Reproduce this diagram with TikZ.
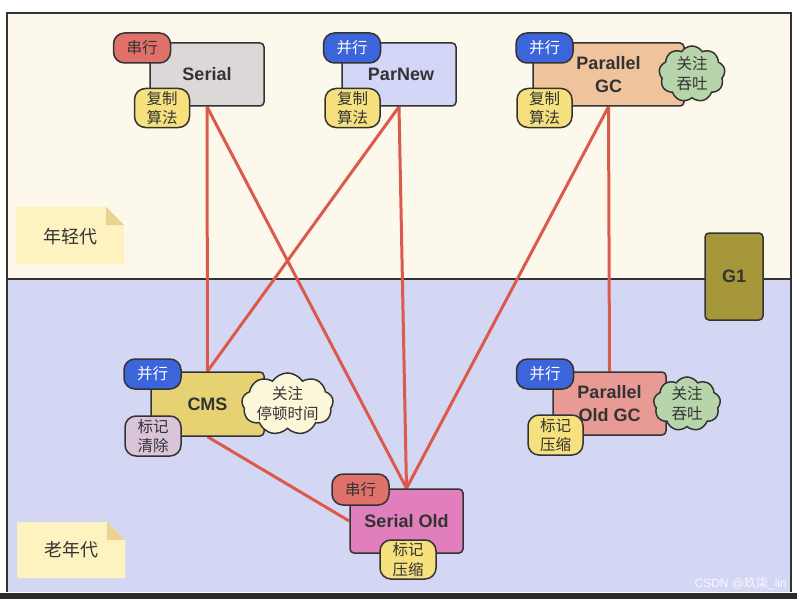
\documentclass[tikz,border=0pt]{standalone}
\usepackage{fontspec}
\setmainfont{Liberation Sans}
\newfontfamily\cjk{Noto Sans CJK SC}
\usetikzlibrary{shapes.symbols,shapes.misc}
\definecolor{topbg}{HTML}{FCF8EB}
\definecolor{botbg}{HTML}{D4D7F4}
\definecolor{framec}{HTML}{333333}
\definecolor{txt}{HTML}{333333}
\definecolor{cSerial}{HTML}{DBD8D7}
\definecolor{cParNew}{HTML}{D3D6F6}
\definecolor{cPGC}{HTML}{EFC39C}
\definecolor{cCMS}{HTML}{E6D273}
\definecolor{cPOld}{HTML}{E89A95}
\definecolor{cSOld}{HTML}{E07FBC}
\definecolor{cGone}{HTML}{A6973A}
\definecolor{tRed}{HTML}{E0706A}
\definecolor{tBlue}{HTML}{3C64DB}
\definecolor{tYellow}{HTML}{F6E17E}
\definecolor{tLav}{HTML}{D9C4D9}
\definecolor{cGreen}{HTML}{B7D4AB}
\definecolor{cCream}{HTML}{FDF7DA}
\definecolor{noteY}{HTML}{FEF3C0}
\definecolor{noteF}{HTML}{E8D38F}
\definecolor{lineR}{HTML}{DC5A4B}
\definecolor{darkbar}{HTML}{2B2B2B}
\pgfdeclarelayer{bglayer}
\pgfdeclarelayer{linelayer}
\pgfsetlayers{bglayer,linelayer,main}
\tikzset{
  gcbox/.style={draw=framec, line width=1.5pt, rounded corners=4pt, text=txt,
    font=\bfseries\fontsize{18}{23}\selectfont, align=center, inner sep=0pt},
  tag/.style={draw=framec, line width=1.5pt, rounded corners=11pt, text=txt,
    font=\cjk\fontsize{15.5}{19.5}\selectfont, align=center, inner sep=0pt,
    minimum width=57pt},
  tag1/.style={tag, minimum height=30pt},
  tag2/.style={tag, minimum height=39pt, minimum width=55pt},
  cloudn/.style={cloud, cloud puffs=9, cloud puff arc=115, cloud ignores aspect,
    draw=framec, line width=1.5pt,
    text=txt, font=\cjk\fontsize{15.5}{20}\selectfont, align=center, inner sep=0pt},
  conn/.style={draw=lineR, line width=3pt},
  notetxt/.style={text=txt, font=\cjk\fontsize{18}{20}\selectfont, inner sep=0pt}
}
\begin{document}
\begin{tikzpicture}[x=1pt,y=-1pt]
\useasboundingbox (0,0) rectangle (797,599);
\begin{pgfonlayer}{bglayer}
\fill[white] (0,0) rectangle (797,599);
\fill[topbg] (7,13) rectangle (791,279);
\fill[botbg] (7,279) rectangle (791,592);
\draw[framec, line width=2pt] (7,592) -- (7,13) -- (791,13) -- (791,592);
\draw[framec, line width=2pt] (7,279) -- (791,279);
\fill[darkbar] (0,593) rectangle (797,599);
% notes
\fill[noteY] (16,207) -- (106,207) -- (124,225) -- (124,264) -- (16,264) -- cycle;
\fill[noteF] (106,207) -- (124,225) -- (106,225) -- cycle;
\fill[noteY] (17,522) -- (107,522) -- (125,540) -- (125,578) -- (17,578) -- cycle;
\fill[noteF] (107,522) -- (125,540) -- (107,540) -- cycle;
\end{pgfonlayer}
\node[notetxt] (young) at (70,237) {年轻代};
\node[notetxt] (old) at (71,550) {老年代};

% main boxes
\node[gcbox, fill=cSerial, minimum width=114pt, minimum height=63pt] (serial) at (207,74.5) {Serial};
\node[gcbox, fill=cParNew, minimum width=114pt, minimum height=63pt] (parnew) at (399,74.5) {\hspace*{4pt}ParNew};
\node[gcbox, fill=cPGC, minimum width=151pt, minimum height=63pt] (pgc) at (608.5,74.5) {Parallel\\GC};
\node[gcbox, fill=cCMS, minimum width=113pt, minimum height=64pt] (cms) at (207.5,404) {CMS};
\node[gcbox, fill=cPOld, minimum width=113pt, minimum height=63pt] (pold) at (609.5,403.5) {Parallel\\Old GC};
\node[gcbox, fill=cSOld, minimum width=113pt, minimum height=64pt] (sold) at (406.5,521) {Serial Old};
\node[gcbox, fill=cGone, minimum width=58pt, minimum height=87pt] (g1) at (734,276.5) {G1};

% tags
\node[tag1, fill=tRed] (t1) at (142,48) {串行};
\node[tag2, fill=tYellow] (t2) at (162,108) {复制\\算法};
\node[tag1, fill=tBlue, text=white] (t3) at (352,48) {并行};
\node[tag2, fill=tYellow] (t4) at (352.5,108) {复制\\算法};
\node[tag1, fill=tBlue, text=white] (t5) at (544.5,48) {并行};
\node[tag2, fill=tYellow] (t6) at (544.5,108) {复制\\算法};
\node[cloudn, fill=cGreen, minimum width=66pt, minimum height=56pt] (c1) at (692,74) {关注\\吞吐};

\node[tag1, fill=tBlue, text=white] (t7) at (152.5,374) {并行};
\node[tag2, fill=tLav, minimum width=56pt, minimum height=40pt] (t8) at (153,436) {标记\\清除};
\node[cloudn, fill=cCream, minimum width=90pt, minimum height=54pt] (c2) at (287.5,404) {关注\\停顿时间};

\node[tag1, fill=tBlue, text=white] (t9) at (545,374) {并行};
\node[tag2, fill=tYellow, minimum height=40pt] (t10) at (555.5,435) {标记\\压缩};
\node[cloudn, fill=cGreen, minimum width=67pt, minimum height=54pt] (c3) at (687,404) {关注\\吞吐};

\node[tag1, fill=tRed, minimum height=31pt] (t11) at (360.5,489.5) {串行};
\node[tag2, fill=tYellow, minimum width=56pt] (t12) at (408,559.5) {标记\\压缩};

\node[text=white!85!botbg, font=\fontsize{12}{14}\selectfont, anchor=east, inner sep=0pt] (wm) at (787,584) {CSDN @{\cjk 玖柒}\_lin};

% connectors
\begin{pgfonlayer}{linelayer}
\draw[conn] (serial.south) -- (cms.north);
\draw[conn] (serial.south) -- (sold.north);
\draw[conn] (parnew.south) -- (cms.north);
\draw[conn] (parnew.south) -- (sold.north);
\draw[conn] (pgc.south) -- (sold.north);
\draw[conn] (pgc.south) -- (pold.north);
\draw[conn] (cms.south) -- (sold.west);
\end{pgfonlayer}
\end{tikzpicture}
\end{document}
